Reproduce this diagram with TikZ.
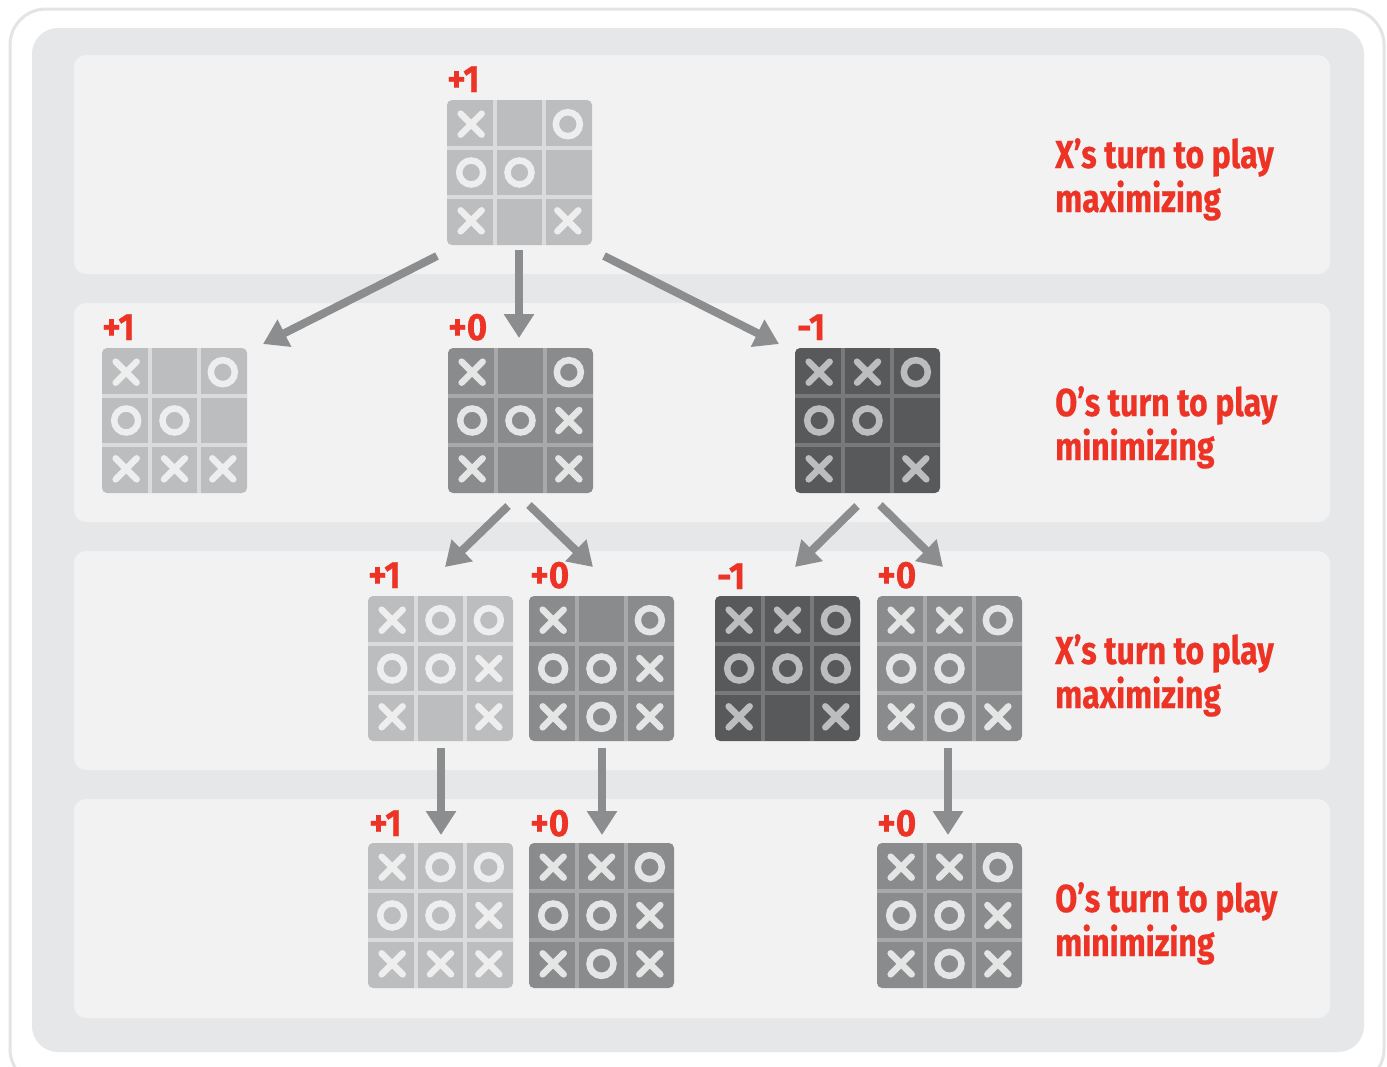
\documentclass[tikz,border=0pt]{standalone}
\usepackage{fontspec}
\newfontfamily\lblfont{Fira Sans}[FakeStretch=0.82, BoldFeatures={FakeBold=0.5}]
\newfontfamily\valfont{Fira Sans}[FakeStretch=0.92, BoldFeatures={FakeBold=0.6}]
\usetikzlibrary{arrows.meta}
\definecolor{frameline}{HTML}{E3E4E5}
\definecolor{panel}{HTML}{E6E7E8}
\definecolor{band}{HTML}{F2F2F2}
\definecolor{arrowgray}{HTML}{8C8D8F}
\definecolor{valred}{HTML}{EC3325}
\definecolor{LF}{HTML}{BCBDBF}\definecolor{LG}{HTML}{DADBDC}\definecolor{LM}{HTML}{EEEEEE}
\definecolor{MF}{HTML}{8A8B8D}\definecolor{MG}{HTML}{A8A9AB}\definecolor{MM}{HTML}{E4E5E5}
\definecolor{DF}{HTML}{58595B}\definecolor{DG}{HTML}{78797B}\definecolor{DM}{HTML}{BCBDBF}
\tikzset{
  boardbox/.style={rectangle, draw=none, minimum size=145pt, inner sep=0pt, rounded corners=5pt},
  gridline/.style={line width=4pt},
  markline/.style={line width=6.5pt, line cap=round},
  conn/.style={draw=arrowgray, line width=8pt, -{Triangle[length=24pt,width=29pt]}},
  vallabel/.style={anchor=base west, inner sep=0pt, text=valred, font=\valfont\bfseries\fontsize{38}{42}\selectfont},
  turnlabel/.style={anchor=base west, inner sep=0pt, text=valred, font=\lblfont\bfseries\fontsize{39}{44}\selectfont},
  bandbox/.style={fill=band, rounded corners=12pt},
}
\newcommand{\tttboard}[5]{%
  \node[boardbox, fill=#4F] (#1) at (#2+72.5,#3+72.5) {};
  \draw[gridline, draw=#4G] (#2+48.33,#3) -- (#2+48.33,#3+145);
  \draw[gridline, draw=#4G] (#2+96.67,#3) -- (#2+96.67,#3+145);
  \draw[gridline, draw=#4G] (#2,#3+48.33) -- (#2+145,#3+48.33);
  \draw[gridline, draw=#4G] (#2,#3+96.67) -- (#2+145,#3+96.67);
  \foreach \m [count=\k from 0] in {#5} {%
    \pgfmathtruncatemacro\cc{mod(\k,3)}%
    \pgfmathtruncatemacro\rr{div(\k,3)}%
    \pgfmathsetmacro\cx{#2+24.17+48.33*\cc}%
    \pgfmathsetmacro\cy{#3+24.17+48.33*\rr}%
    \if\m X \draw[markline, draw=#4M] (\cx-10.5,\cy-10.5) -- (\cx+10.5,\cy+10.5) (\cx-10.5,\cy+10.5) -- (\cx+10.5,\cy-10.5);\fi
    \if\m O \draw[markline, draw=#4M] (\cx,\cy) circle[radius=12pt];\fi
  }%
}
\begin{document}
\begin{tikzpicture}[x=1pt,y=-1pt]
\useasboundingbox (0,0) rectangle (1387,1066);
\clip (0,0) rectangle (1387,1066);
\fill[white] (0,0) rectangle (1387,1066);
\draw[frameline, line width=3pt, rounded corners=36pt] (10,9) rectangle (1384,1085);
\fill[panel, rounded corners=26pt] (32,28) rectangle (1364,1052);
\foreach \k in {0,1,2,3} {
  \fill[bandbox] (74,55+248*\k) rectangle (1330,274+248*\k);
}
% boards
\tttboard{A}{447}{100}{L}{X,N,O,O,O,N,X,N,X}
\tttboard{B}{102}{348}{L}{X,N,O,O,O,N,X,X,X}
\tttboard{C}{448}{348}{M}{X,N,O,O,O,X,X,N,X}
\tttboard{D}{795}{348}{D}{X,X,O,O,O,N,X,N,X}
\tttboard{E}{368}{596}{L}{X,O,O,O,O,X,X,N,X}
\tttboard{F}{529}{596}{M}{X,N,O,O,O,X,X,O,X}
\tttboard{G}{715}{596}{D}{X,X,O,O,O,O,X,N,X}
\tttboard{H}{877}{596}{M}{X,X,O,O,O,N,X,O,X}
\tttboard{I}{368}{843}{L}{X,O,O,O,O,X,X,X,X}
\tttboard{J}{529}{843}{M}{X,X,O,O,O,X,X,O,X}
\tttboard{K}{877}{843}{M}{X,X,O,O,O,X,X,O,X}
% values
\node[vallabel] (vA) at (447,92) {+1};
\node[vallabel] (vB) at (102,340) {+1};
\node[vallabel] (vC) at (448,340) {+0};
\node[vallabel] (vD) at (797,340) {-1};
\node[vallabel] (vE) at (368,588) {+1};
\node[vallabel] (vF) at (530,588) {+0};
\node[vallabel] (vG) at (717,589) {-1};
\node[vallabel] (vH) at (877,588) {+0};
\node[vallabel] (vI) at (369,836) {+1};
\node[vallabel] (vJ) at (530,836) {+0};
\node[vallabel] (vK) at (877,836) {+0};
% turn labels
\node[turnlabel] (t1a) at (1055,168) {X’s turn to play};
\node[turnlabel] (t1b) at (1055,212) {maximizing};
\node[turnlabel] (t2a) at (1055,416) {O’s turn to play};
\node[turnlabel] (t2b) at (1055,460) {minimizing};
\node[turnlabel] (t3a) at (1055,664) {X’s turn to play};
\node[turnlabel] (t3b) at (1055,708) {maximizing};
\node[turnlabel] (t4a) at (1055,912) {O’s turn to play};
\node[turnlabel] (t4b) at (1055,956) {minimizing};
% connector end points
\coordinate (a1s) at (437,256); \coordinate (a1e) at (263,344);
\coordinate (a2s) at (519,250); \coordinate (a2e) at (519,338);
\coordinate (a3s) at (604,256); \coordinate (a3e) at (779,344);
\coordinate (a4s) at (508,506); \coordinate (a4e) at (445,567);
\coordinate (a5s) at (529,505); \coordinate (a5e) at (593,567);
\coordinate (a6s) at (857,506); \coordinate (a6e) at (795,567);
\coordinate (a7s) at (880,505); \coordinate (a7e) at (943,567);
\coordinate (a8s) at (441,748); \coordinate (a8e) at (441,835);
\coordinate (a9s) at (602,748); \coordinate (a9e) at (602,835);
\coordinate (a10s) at (948,748); \coordinate (a10e) at (948,835);
\foreach \i in {1,...,10} { \draw[conn] (a\i s) -- (a\i e); }
\end{tikzpicture}
\end{document}
